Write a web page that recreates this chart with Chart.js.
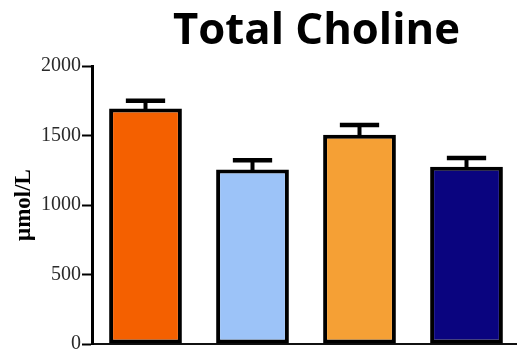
<!DOCTYPE html>
<html>
<head>
<meta charset="utf-8">
<script src="https://cdn.jsdelivr.net/npm/chart.js@4/dist/chart.umd.min.js"></script>
<style>
  html, body { margin: 0; padding: 0; background: #fff; overflow: hidden; }
  #wrap { width: 520px; height: 357px; position: relative; }
</style>
</head>
<body>
<div id="wrap"><canvas id="c" width="520" height="357"></canvas></div>
<script>
// Group means and upper SEM (µmol/L)
const groups = ['Group 1', 'Group 2', 'Group 3', 'Group 4'];
const means = [1695, 1255, 1505, 1275];
const sem = [55, 67, 71, 64];
const barColors = ['#F46000', '#9CC3F8', '#F5A035', '#0A047F'];
const yTicks = [0, 500, 1000, 1500, 2000];
const chartTitle = 'Total Choline';
const yTitle = 'μmol/L';

// Upper error bars (stem + cap) drawn from the y scale
const errorBars = {
  id: 'errorBars',
  beforeDatasetsDraw(chart) {
    const { ctx, scales: { y } } = chart;
    const meta = chart.getDatasetMeta(0);
    ctx.save();
    ctx.strokeStyle = '#000';
    ctx.lineCap = 'butt';
    meta.data.forEach((bar, i) => {
      const yTop = y.getPixelForValue(means[i] + sem[i]);
      const yBase = y.getPixelForValue(means[i]);
      const half = bar.width * 0.27;
      ctx.lineWidth = 4;
      ctx.beginPath();
      ctx.moveTo(bar.x, yBase + 2);
      ctx.lineTo(bar.x, yTop);
      ctx.stroke();
      ctx.lineWidth = 4.5;
      ctx.beginPath();
      ctx.moveTo(bar.x - half, yTop);
      ctx.lineTo(bar.x + half, yTop);
      ctx.stroke();
    });
    ctx.restore();
  }
};

// Heading text above the plot, sized to a 287px run
const heading = {
  id: 'heading',
  afterDraw(chart) {
    const { ctx } = chart;
    ctx.save();
    ctx.fillStyle = '#000';
    const fam = '"Open Sans", Lato, sans-serif';
    ctx.font = 'bold 40px ' + fam;
    const w = ctx.measureText(chartTitle).width;
    const size = 40 * 287 / w;
    ctx.font = 'bold ' + size.toFixed(2) + 'px ' + fam;
    ctx.textAlign = 'center';
    ctx.textBaseline = 'alphabetic';
    ctx.fillText(chartTitle, 316.5, 43.5);
    ctx.restore();
  }
};

new Chart(document.getElementById('c'), {
  type: 'bar',
  data: {
    labels: groups,
    datasets: [{
      data: means,
      backgroundColor: barColors,
      borderColor: '#000',
      borderWidth: 4,
      borderSkipped: false,
      barPercentage: 0.68,
      categoryPercentage: 1.0
    }]
  },
  options: {
    responsive: false,
    animation: false,
    devicePixelRatio: 1,
    layout: { padding: { top: 66, left: 0, right: 0, bottom: 0 } },
    plugins: { legend: { display: false }, tooltip: { enabled: false }, title: { display: false } },
    scales: {
      x: {
        type: 'category',
        grid: { display: false, drawTicks: false },
        border: { display: true, color: '#111', width: 2 },
        ticks: { display: false },
        afterFit(s) { s.height = 8; }
      },
      y: {
        min: 0,
        max: 2000,
        afterBuildTicks(s) { s.ticks = yTicks.map(v => ({ value: v })); },
        afterFit(s) { s.width = 92; },
        grid: { drawOnChartArea: false, drawTicks: true, tickLength: 10, tickWidth: 2, tickColor: '#000' },
        border: { display: true, color: '#000', width: 3 },
        ticks: {
          color: '#2a2a2a',
          padding: 1,
          callback: v => String(v),
          font: { family: '"Liberation Serif", "Times New Roman", serif', size: 20 }
        },
        title: {
          display: true,
          text: yTitle,
          color: '#000',
          padding: { top: 10, bottom: 0 },
          font: { family: '"Liberation Serif", "Times New Roman", serif', size: 23, weight: 'bold' }
        }
      }
    }
  },
  plugins: [errorBars, heading]
});
</script>
</body>
</html>
